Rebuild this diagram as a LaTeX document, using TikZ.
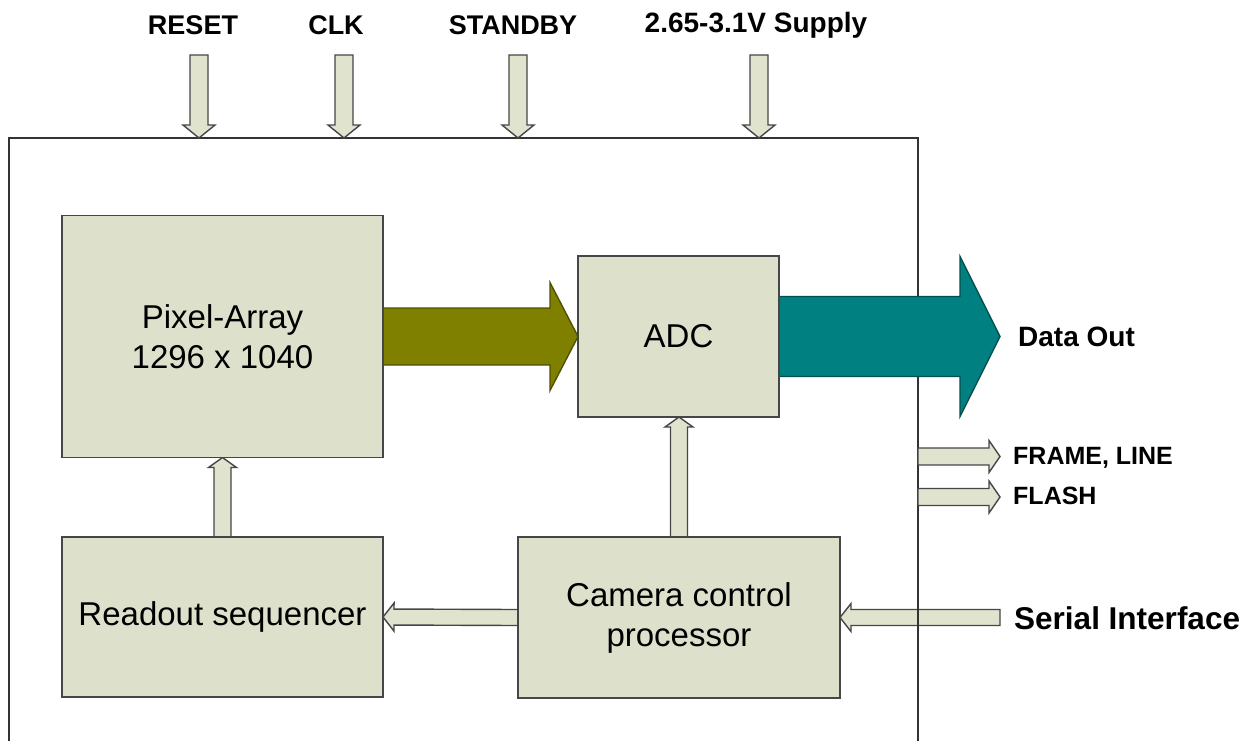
\documentclass[tikz,border=0pt]{standalone}
\usepackage{fontspec}
\setmainfont{Liberation Sans}
\usetikzlibrary{calc}
\definecolor{boxfill}{RGB}{221,225,203}
\definecolor{arrfill}{RGB}{224,227,206}
\definecolor{olivef}{RGB}{128,128,0}
\definecolor{oliveb}{RGB}{80,80,0}
\definecolor{tealf}{RGB}{0,128,128}
\definecolor{tealb}{RGB}{0,80,80}
\definecolor{edge}{RGB}{70,70,70}
\newcommand{\blockarrow}[6][]{%
  \coordinate (bS) at (#2);
  \coordinate (bT) at (#3);
  \coordinate (bH) at ($(bT)!#6!(bS)$);
  \draw[#1] ($(bS)!#4!90:(bT)$) -- ($(bH)!#4!90:(bT)$) -- ($(bH)!#5!90:(bT)$) -- (bT)
     -- ($(bH)!#5!-90:(bT)$) -- ($(bH)!#4!-90:(bT)$) -- ($(bS)!#4!-90:(bT)$) -- cycle;}
\tikzset{
  blk/.style={draw=edge, line width=1.6pt, fill=boxfill, inner sep=0pt, outer sep=0pt,
     align=center, font=\fontsize{33}{40}\selectfont},
  sig/.style={draw=edge, line width=1.4pt, fill=arrfill, line join=miter},
  lbl/.style={font=\bfseries\fontsize{27}{30}\selectfont, inner sep=0pt},
  lbls/.style={font=\bfseries\fontsize{25}{28}\selectfont, inner sep=0pt, anchor=west},
}
\begin{document}
\begin{tikzpicture}[x=1pt,y=-1pt]
\useasboundingbox[fill=white] (0,0) rectangle (1256,740);
\path (222.5,336.5) coordinate (paC) (678.5,336.5) coordinate (adcC)
      (222.5,617) coordinate (roC) (679,617.5) coordinate (ccpC);
% invisible first pass to get anchors
\node[blk, draw=none, fill=none, minimum width=321pt, minimum height=242pt] (pa) at (paC) {};
\node[blk, draw=none, fill=none, minimum width=201pt, minimum height=161pt] (adc) at (adcC) {};
\node[blk, draw=none, fill=none, minimum width=321pt, minimum height=160pt] (ro) at (roC) {};
\node[blk, draw=none, fill=none, minimum width=322pt, minimum height=161pt] (ccp) at (ccpC) {};
% serial interface
\node[lbl, anchor=west, font=\bfseries\fontsize{31.5}{34}\selectfont] (ser) at (1014,618) {Serial Interface};
\coordinate (serS) at (1000,617.5);
\blockarrow[sig]{serS}{ccp.east}{8pt}{14pt}{11pt}
% chip outline
\node[draw=black!80, line width=1.5pt, minimum width=909pt, minimum height=630pt,
      anchor=north west, inner sep=0pt, outer sep=0pt] (chip) at (9,138) {};
% top labels and arrows
\node[lbl] (rst) at (193,25) {RESET};
\node[lbl] (clk) at (336,25) {CLK};
\node[lbl] (stb) at (513,25) {STANDBY};
\node[lbl, font=\bfseries\fontsize{28}{30}\selectfont] (sup) at (756,25) {2.65-3.1V Supply};
\coordinate (rstS) at (199,55);
\coordinate (clkS) at (344,55);
\coordinate (stbS) at (518,55);
\coordinate (supS) at (759,55);
\blockarrow[sig]{rstS}{rstS |- chip.north}{9pt}{16pt}{13pt}
\blockarrow[sig]{clkS}{clkS |- chip.north}{9pt}{16pt}{13pt}
\blockarrow[sig]{stbS}{stbS |- chip.north}{9pt}{16pt}{13pt}
\blockarrow[sig]{supS}{supS |- chip.north}{9pt}{16pt}{13pt}
% internal arrows
\blockarrow[sig]{ro.north}{pa.south}{8.5pt}{14pt}{10pt}
\coordinate (ccpN) at (679,537);
\blockarrow[sig]{ccpN}{ccpN |- adc.south}{8.5pt}{14pt}{10pt}
\blockarrow[sig]{ccp.west}{ro.east}{8pt}{14pt}{11pt}
% data arrows
\blockarrow[fill=olivef, draw=oliveb, line width=1.4pt]{pa.east}{adc.west}{28.5pt}{54pt}{28pt}
\coordinate (doT) at (1000,336.5);
\blockarrow[fill=tealf, draw=tealb, line width=1.4pt]{adc.east}{doT}{40pt}{80pt}{40pt}
\node[lbl, anchor=west, font=\bfseries\fontsize{28}{30}\selectfont] (dout) at (1018,337) {Data Out};
% frame / flash
\coordinate (frS) at (918,456.5);
\coordinate (frT) at (1000,456.5);
\coordinate (flS) at (918,497);
\coordinate (flT) at (1000,497);
\blockarrow[sig]{frS}{frT}{8.5pt}{16pt}{11pt}
\blockarrow[sig]{flS}{flT}{8.5pt}{16pt}{11pt}
\node[lbls] (frm) at (1013,458) {FRAME, LINE};
\node[lbls] (fls) at (1013,496) {FLASH};
% visible blocks on top
\node[blk, minimum width=321pt, minimum height=242pt] (paV) at (paC) {Pixel-Array\\1296 x 1040};
\node[blk, minimum width=201pt, minimum height=161pt] (adcV) at (adcC) {ADC};
\node[blk, minimum width=321pt, minimum height=160pt] (roV) at (roC) {Readout sequencer};
\node[blk, minimum width=322pt, minimum height=161pt] (ccpV) at (ccpC) {Camera control\\processor};
\end{tikzpicture}
\end{document}
